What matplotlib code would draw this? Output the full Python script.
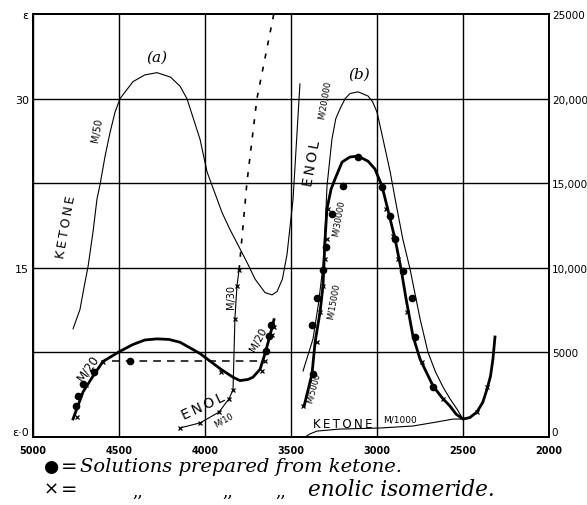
import matplotlib
matplotlib.use("Agg")
import matplotlib.pyplot as plt

# ---------------- data (wavelength in Å) ----------------
# Panel (a) – left scale (epsilon)
ket_a_wl = [4767, 4727, 4698, 4680, 4651, 4628, 4610, 4581, 4552, 4523, 4494, 4419, 4350, 4279, 4200,
            4145, 4105, 4029, 3988, 3901, 3855, 3797, 3750, 3709, 3651, 3610, 3581, 3550, 3523, 3488, 3448]
ket_a_eps = [9.6, 11.3, 13.7, 15.1, 18.2, 21.1, 22.4, 24.9, 27.0, 28.8, 30.0, 31.5, 32.1, 32.3, 31.9,
             31.1, 30.0, 26.4, 23.5, 19.9, 18.4, 16.7, 15.3, 14.0, 12.8, 12.6, 12.9, 14.0, 16.2, 21.1, 31.3]

m20_a_wl = [4767, 4709, 4651, 4593, 4494, 4419, 4350, 4279, 4210, 4145, 4029, 3907, 3837, 3797,
            3750, 3721, 3680, 3651, 3622, 3599]
m20_a_eps = [1.6, 4.0, 5.4, 6.7, 7.6, 8.2, 8.6, 8.7, 8.65, 8.4, 7.4, 6.0, 5.3, 5.0,
             5.1, 5.3, 6.0, 7.4, 9.0, 10.4]

ketdash_a_wl = [4540, 4436, 3660]
ketdash_a_eps = [6.7, 6.7, 6.7]

enol_a_wl = [4145, 4029, 3919, 3860, 3837, 3826, 3820, 3814, 3802]
enol_a_eps = [0.8, 1.25, 2.2, 3.4, 4.2, 10.5, 12.0, 13.4, 14.8]

enoldash_a_wl = [3802, 3756, 3698, 3600]
enoldash_a_eps = [14.8, 22.6, 30.0, 37.5]

dots_a_wl = [4750, 4738, 4709, 4645, 4436, 3645, 3628, 3616]
dots_a_eps = [2.75, 3.63, 4.7, 5.76, 6.74, 7.6, 8.95, 9.93]

cross_a_wl = [4744, 4690, 4593, 4145, 4029, 3919, 3860, 3837, 3826, 3814, 3802, 3907, 3669, 3651, 3610, 3599]
cross_a_eps = [1.8, 4.6, 6.65, 0.8, 1.25, 2.2, 3.4, 4.2, 10.5, 13.4, 14.8, 5.8, 5.85, 6.7, 9.0, 9.75]

# Panel (b) – right scale
enol_b_wl = [3430, 3372, 3340, 3314, 3300, 3291, 3262, 3240, 3215, 3185, 3157, 3110, 3052, 3025, 3000,
             2965, 2924, 2884, 2850, 2808, 2750, 2704, 2660, 2616, 2575, 2535, 2500]
enol_b_val = [3900, 5800, 7900, 10100, 12600, 14800, 17600, 18800, 19400, 20000, 20300, 20400, 20150, 19800, 19200,
              17600, 15700, 13500, 11700, 9930, 7000, 5020, 3850, 2950, 2250, 1650, 1060]

thick_b_wl = [3424, 3378, 3360, 3331, 3314, 3302, 3291, 3267, 3244, 3203, 3157, 3110, 3052, 3012, 2971,
              2942, 2895, 2860, 2831, 2791, 2750, 2674, 2620, 2576, 2540, 2500, 2460, 2419, 2385, 2360, 2340, 2326, 2314]
thick_b_val = [1830, 3720, 5610, 7390, 8920, 11700, 13470, 14650, 15250, 16250, 16550, 16600, 16300, 15840, 14830,
               13650, 11700, 9930, 8160, 5970, 4610, 3010, 2300, 1830, 1350, 1060, 1150, 1480, 2050, 2840, 3600, 4610, 5910]

ket_b_wl = [3419, 3390, 3349, 3215, 2983, 2791, 2651, 2558, 2500]
ket_b_val = [0, 180, 350, 470, 530, 650, 890, 1060, 1060]

dots_b_wl = [3372, 3378, 3349, 3314, 3296, 3262, 3198, 3110, 2971, 2924, 2895, 2849, 2797, 2779, 2674]
dots_b_val = [3720, 6620, 8210, 9870, 11230, 13180, 14830, 16550, 14780, 13060, 11700, 9810, 8210, 5910, 2950]

cross_b_wl = [3430, 3349, 3331, 3314, 3302, 3291, 3285, 2948, 2907, 2878, 2826, 2739, 2616, 2419, 2360]
cross_b_val = [1830, 5610, 7390, 8920, 10520, 11700, 13470, 13470, 11880, 10520, 7390, 4430, 2250, 1480, 2950]

x_ticks = [5000, 4500, 4000, 3500, 3000, 2500, 2000]
left_ticks = [0, 15, 30, 37.5]
left_labels = ["ε·0", "15", "30", "ε"]
right_ticks = [0, 5000, 10000, 15000, 20000, 25000]
right_labels = ["0", "5000", "10,000", "15,000", "20,000", "25000"]

TS = "\u2009"  # thin space for letter spacing


def spaced(s):
    return TS.join(s)


# ---------------- figure ----------------
fig = plt.figure(figsize=(5.87, 5.06), dpi=100)
ax = fig.add_axes([33/587, 68/506, 516/587, 423/506])
ax2 = ax.twinx()

ax.set_xlim(5000, 2000)
ax.set_ylim(0, 37.5)
ax2.set_ylim(0, 25000)

# grid
for xv in x_ticks:
    ax.axvline(xv, color="black", lw=1.0, zorder=1)
for yv in [7.5, 15, 22.5, 30]:
    ax.axhline(yv, color="black", lw=1.0, zorder=1)
for sp in ax.spines.values():
    sp.set_linewidth(1.4)
for sp in ax2.spines.values():
    sp.set_linewidth(1.4)

k = "black"
# panel a
ax.plot(ket_a_wl, ket_a_eps, color=k, lw=0.8, zorder=3)
ax.plot(m20_a_wl, m20_a_eps, color=k, lw=2.0, zorder=3)
ax.plot(ketdash_a_wl, ketdash_a_eps, color=k, lw=1.1, ls=(0, (5, 4)), zorder=3)
ax.plot(enol_a_wl, enol_a_eps, color=k, lw=0.8, zorder=3)
ax.plot(enoldash_a_wl, enoldash_a_eps, color=k, lw=1.2, ls=(0, (3, 5)), zorder=3)
ax.plot(dots_a_wl, dots_a_eps, ls="none", marker="o", ms=4.5, color=k, zorder=4)
ax.plot(cross_a_wl, cross_a_eps, ls="none", marker="x", ms=3, mew=0.9, color=k, zorder=4)

# panel b
ax2.plot(enol_b_wl, enol_b_val, color=k, lw=0.8, zorder=3)
ax2.plot(thick_b_wl, thick_b_val, color=k, lw=2.0, zorder=3)
ax2.plot(ket_b_wl, ket_b_val, color=k, lw=0.8, zorder=3)
ax2.plot(dots_b_wl, dots_b_val, ls="none", marker="o", ms=4.5, color=k, zorder=4)
ax2.plot(cross_b_wl, cross_b_val, ls="none", marker="x", ms=3, mew=0.9, color=k, zorder=4)

# ticks
ax.set_xticks(x_ticks)
ax.set_xticklabels([str(v) for v in x_ticks], fontsize=7, fontweight="bold")
ax.set_yticks(left_ticks)
ax.set_yticklabels(left_labels, fontsize=8)
ax2.set_yticks(right_ticks)
ax2.set_yticklabels(right_labels, fontsize=7.5)
ax.tick_params(axis="x", length=0, pad=6)
ax.tick_params(axis="y", length=0, pad=3)
ax2.tick_params(axis="y", length=0, pad=2)
ax.get_yticklabels()[0].set_va("bottom")
ax2.get_yticklabels()[0].set_va("bottom")

# annotations panel a
ax.text(4279, 33.7, "(a)", fontsize=11, style="italic", family="DejaVu Serif", ha="center", va="center")
ax.text(4805, 18.7, spaced("KETONE"), fontsize=9, rotation=80, ha="center", va="center")
ax.text(4625, 27.3, "M/50", fontsize=7, rotation=80, ha="center", va="center")
ax.text(4680, 6.2, "M/20", fontsize=8.5, rotation=55, ha="center", va="center")
ax.text(3849, 12.5, "M/30", fontsize=7, rotation=90, ha="center", va="center")
ax.text(3692, 8.7, "M/20", fontsize=7.5, rotation=62, ha="center", va="center")
ax.text(4010, 2.8, spaced("ENOL"), fontsize=10, rotation=25, ha="center", va="center")
ax.text(3895, 1.6, "M/10", fontsize=6, rotation=30, ha="center", va="center")

# annotations panel b
ax2.text(3105, 21450, "(b)", fontsize=11, style="italic", family="DejaVu Serif", ha="center", va="center")
ax2.text(3375, 16200, spaced("ENOL"), fontsize=10, rotation=80, ha="center", va="center")
ax2.text(3302, 19980, "M/20,000", fontsize=6, rotation=80, ha="center", va="center")
ax2.text(3227, 13000, "M/30000", fontsize=6, rotation=80, ha="center", va="center")
ax2.text(3256, 8040, "M/15000", fontsize=6, rotation=80, ha="center", va="center")
ax2.text(3368, 2960, "M/5000", fontsize=6, rotation=75, ha="center", va="center")
ax2.text(3200, 770, spaced("KETONE"), fontsize=8.5, ha="center", va="center")
ax2.text(2866, 1050, "M/1000", fontsize=6.5, ha="center", va="center")

# legend text below
serif = "DejaVu Serif"
fig.text(43/587, 1 - 467/506, "●", fontsize=12.5, ha="left", va="center")
fig.text(61/587, 1 - 467/506, "=", fontsize=14, ha="left", va="center")
fig.text(80/587, 1 - 467/506, "Solutions prepared from ketone.", fontsize=14,
         style="italic", family=serif, ha="left", va="center")
fig.text(44/587, 1 - 490/506, "×", fontsize=13, ha="left", va="center")
fig.text(61/587, 1 - 490/506, "=", fontsize=14, ha="left", va="center")
for xp in [132, 222, 275]:
    fig.text(xp/587, 1 - 492/506, ",,", fontsize=12, family=serif, ha="left", va="center")
fig.text(308/587, 1 - 490/506, "enolic isomeride.", fontsize=15.5,
         style="italic", family=serif, ha="left", va="center")

fig.savefig("out.png", dpi=100)
